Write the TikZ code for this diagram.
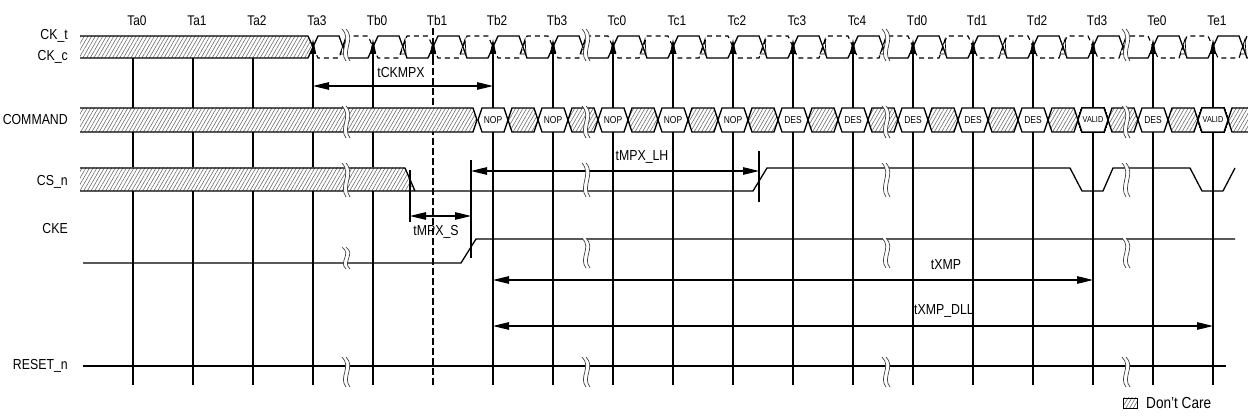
\documentclass[tikz,border=0pt]{standalone}
\usepackage{fontspec}
\setmainfont{Liberation Sans}[FakeStretch=0.85]
\usetikzlibrary{patterns.meta,arrows.meta}
\newcommand{\wavebrk}[3]{%
  \fill[white] ({#1-3},{#2-#3/2}) .. controls ({#1+7},{#2-#3/6}) and ({#1-7},{#2+#3/6}) .. ({#1+1},{#2+#3/2})
     -- ({#1+5},{#2+#3/2}) .. controls ({#1-3},{#2+#3/6}) and ({#1+11},{#2-#3/6}) .. ({#1+1},{#2-#3/2}) -- cycle;
  \draw[brkline] ({#1-3},{#2-#3/2}) .. controls ({#1+7},{#2-#3/6}) and ({#1-7},{#2+#3/6}) .. ({#1+1},{#2+#3/2});
  \draw[brkline] ({#1+1},{#2-#3/2}) .. controls ({#1+11},{#2-#3/6}) and ({#1-3},{#2+#3/6}) .. ({#1+5},{#2+#3/2});
}
\newcommand{\cmdcell}[2]{%
  \path[draw,sig,fill=white] ({#1-15},120) -- ({#1-11},108) -- ({#1+11},108) -- ({#1+15},120) -- ({#1+11},132) -- ({#1-11},132) -- cycle;
  \node[cmd] at (#1,120) {#2};
}
\newcommand{\hatchcell}[1]{%
  \path[hatchfill] ({#1+15},120) -- ({#1+19},108) -- ({#1+41},108) -- ({#1+45},120) -- ({#1+41},132) -- ({#1+19},132) -- cycle;
  \draw[sig] ({#1+15},120) -- ({#1+19},108) -- ({#1+41},108) -- ({#1+45},120) -- ({#1+41},132) -- ({#1+19},132) -- cycle;
}
\begin{document}
\begin{tikzpicture}[x=1pt,y=-1pt,
  lbl/.style={font=\fontsize{14.5}{16}\selectfont, inner sep=0pt},
  tlbl/.style={font=\fontsize{14}{15}\selectfont, inner sep=0pt},
  cmd/.style={font=\fontsize{10}{11}\selectfont, inner sep=0pt},
  sig/.style={line width=1.3pt},
  vline/.style={line width=1.2pt},
  hatchfill/.style={preaction={fill=white}, pattern={Lines[angle=60,distance=3.2pt,line width=0.55pt]}, pattern color=black!60},
  tarr/.style={line width=1.2pt, {Triangle[length=16pt,width=7.5pt]}-{Triangle[length=16pt,width=7.5pt]}},
  ext/.style={line width=1.2pt},
  brkline/.style={line width=0.7pt, black!75},
  uparr/.style={line width=1.2pt,-{Triangle[length=15pt,width=6pt]}}
]
\useasboundingbox (0,0) rectangle (1248,419);
\begin{scope}
\clip (0,0) rectangle (1248,419);
% top labels
\foreach \n [count=\i from 0] in {Ta0,Ta1,Ta2,Ta3,Tb0,Tb1,Tb2,Tb3,Tc0,Tc1,Tc2,Tc3,Tc4,Td0,Td1,Td2,Td3,Te0,Te1}
  \node[tlbl] (lab\n) at ({133+60*\i+4},21) {\n};
% left labels
\node[lbl,anchor=east] (ckt) at (68,36) {CK\_t};
\node[lbl,anchor=east] (ckc) at (68,57) {CK\_c};
\node[lbl,anchor=east] (command) at (68,120) {COMMAND};
\node[lbl,anchor=east] (csn) at (68,182) {CS\_n};
\node[lbl,anchor=east] (cke) at (68,229) {CKE};
\node[lbl,anchor=east] (resetn) at (68,366) {RESET\_n};
% vertical lines
\foreach \i in {0,1,2} \draw[vline] ({133+60*\i},58) -- ({133+60*\i},385);
\foreach \i in {3,4,6,7,8,9,10,11,12,13,14,15,16,17,18} \draw[vline] ({133+60*\i},385) -- ({133+60*\i},52);
\draw[vline,dash pattern=on 7pt off 3pt] (433,28) -- (433,385);
% clock
\draw[sig] (313,47) \foreach \i in {3,...,18}{ -- ({133+60*\i+5},36) -- ({133+60*\i+26},36) -- ({133+60*\i+34},58) -- ({133+60*\i+55},58)};
\draw[line width=1.1pt, dash pattern=on 5pt off 4pt] (313,47) \foreach \i in {3,...,18}{ -- ({133+60*\i+5},58) -- ({133+60*\i+26},58) -- ({133+60*\i+34},36) -- ({133+60*\i+55},36)};
\foreach \i in {3,...,18} \draw[line width=0.7pt] ({133+60*\i+27},54) -- ({133+60*\i+32},39) -- ({133+60*\i+33},54) -- cycle;
\foreach \i in {3,...,18} \draw[uparr] ({133+60*\i},58) -- ({133+60*\i},39);
\path[hatchfill] (80,36) -- (308,36) -- (313,47) -- (308,58) -- (80,58) -- cycle;
\draw[sig] (80,36) -- (308,36) -- (313,47) -- (308,58) -- (80,58);
% command bus
\path[hatchfill] (80,108) -- (473,108) -- (477,120) -- (473,132) -- (80,132) -- cycle;
\draw[sig] (80,108) -- (473,108) -- (477,120) -- (473,132) -- (80,132);
\foreach \i in {6,...,17} \hatchcell{133+60*\i}
\path[hatchfill] (1228,120) -- (1232,108) -- (1248,108) -- (1248,132) -- (1232,132) -- cycle;
\draw[sig] (1248,108) -- (1232,108) -- (1228,120) -- (1232,132) -- (1248,132);
\foreach \i/\t in {6/NOP,7/NOP,8/NOP,9/NOP,10/NOP,11/DES,12/DES,13/DES,14/DES,15/DES,17/DES} \cmdcell{133+60*\i}{\t}
\cmdcell{1093}{\fontsize{8.6}{10}\selectfont VALID}
\cmdcell{1213}{\fontsize{8.6}{10}\selectfont VALID}
% CS_n
\path[hatchfill] (80,168) -- (405,168) -- (415,191) -- (80,191) -- cycle;
\draw[sig] (80,168) -- (405,168) -- (415,191);
\draw[sig] (80,191) -- (753,191) -- (767,168) -- (1070,168) -- (1082,191) -- (1103,191) -- (1113,168) -- (1190,168) -- (1202,191) -- (1223,191) -- (1235,168);
% CKE
\draw[sig] (83,263) -- (461,263) -- (476,239) -- (1235,239);
% RESET_n
\draw[sig] (83,366) -- (1226,366);
% extension lines
\coordinate (sL) at (410,216); \coordinate (sR) at (471,216);
\coordinate (lhL) at (471,171); \coordinate (lhR) at (759,171);
\draw[ext] (410,170) -- (410,222);
\draw[ext] (471,160) -- (471,258);
\draw[ext] (759,151) -- (759,202);
% timing arrows
\coordinate (ckL) at (313,86); \coordinate (ckR) at (493,86);
\draw[tarr] (ckL) -- (ckR);
\node[lbl] (tckmpx) at (401,73) {tCKMPX};
\draw[tarr] (sL) -- (sR);
\node[lbl] (tmpxs) at (436,232) {tMPX\_S};
\draw[tarr] (lhL) -- (lhR);
\node[lbl] (tmpxlh) at (642,157) {tMPX\_LH};
\coordinate (xL) at (493,280); \coordinate (xR) at (1093,280);
\draw[tarr] (xL) -- (xR);
\node[lbl] (txmp) at (946,265) {tXMP};
\coordinate (dL) at (493,326); \coordinate (dR) at (1213,326);
\draw[tarr] (dL) -- (dR);
\node[lbl] (txmpdll) at (944,311) {tXMP\_DLL};
% breaks
\foreach \x in {345,585,885,1125} {
  \wavebrk{\x}{45}{32}
  \wavebrk{\x}{122}{32}
  \wavebrk{\x}{180}{34}
  \wavebrk{\x}{372}{30}
}
\wavebrk{345}{258}{22}
\foreach \x in {585,885,1125} {\wavebrk{\x}{253}{30}}
% legend
\path[hatchfill] (1123,398) rectangle (1137,408);
\draw[line width=0.6pt] (1123,398) rectangle (1137,408);
\node[lbl,anchor=west,font=\fontsize{16}{18}\selectfont] (dontcare) at (1146,403) {Don't Care};
\end{scope}
\end{tikzpicture}
\end{document}
